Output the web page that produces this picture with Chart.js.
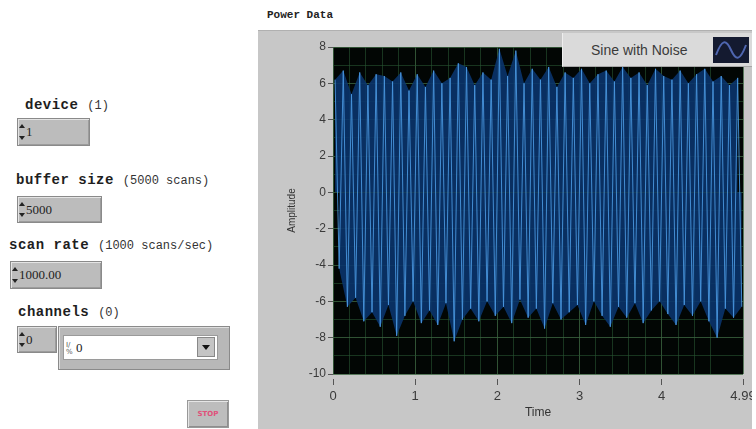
<!DOCTYPE html>
<html>
<head>
<meta charset="utf-8">
<script src="https://cdn.jsdelivr.net/npm/chart.js@4.4.1/dist/chart.umd.min.js"></script>
<style>
  body { margin: 0; width: 756px; height: 429px; background: #fff; position: relative; overflow: hidden; }
  .lbl { position: absolute; font: bold 14px "Liberation Mono", monospace; letter-spacing: 0.5px; color: #1e1e1e; white-space: nowrap; }
  .lbl span { font: 12px "Liberation Mono", monospace; letter-spacing: 0; color: #333; }
  .num { position: absolute; box-sizing: border-box; background: #bcbcbc; border: 1px solid #8a8a8a;
         box-shadow: inset 1px 1px 0 #e4e4e4, inset -1px -1px 0 #9c9c9c;
         font: 13px "Liberation Serif", serif; color: #222; padding-left: 8px; }
  .arr { position: absolute; left: 1px; width: 0; height: 0; border-left: 3px solid transparent; border-right: 3px solid transparent; }
  .up { top: 5px; border-bottom: 4px solid #222; }
  .dn { bottom: 5px; border-top: 4px solid #222; }
  #panel { position: absolute; left: 258px; top: 30px; width: 494px; height: 399px; background: #c7c7c7;
           border-top: 1px solid #b0b0b0; box-sizing: border-box; }
  #panel canvas { position: absolute; left: 0; top: 0; }
  #legend { position: absolute; left: 304px; top: 2px; width: 190px; height: 34px; background: #dadada;
            border-bottom: 1px solid #a8a8a8; border-left: 1px solid #eeeeee; box-sizing: border-box; }
  #legend .txt { position: absolute; left: 28px; top: 9px; font: 14px "Liberation Sans", sans-serif; color: #3a3a3a; }
  #legend svg { position: absolute; left: 150px; top: 4px; }
</style>
</head>
<body>

<div class="lbl" style="left:25px; top:97px">device <span>(1)</span></div>
<div class="num" style="left:17px; top:118px; width:73px; height:28px; line-height:26px">
  <div class="arr up"></div><div class="arr dn"></div>1</div>

<div class="lbl" style="left:16px; top:172px">buffer size <span>(5000 scans)</span></div>
<div class="num" style="left:17px; top:196px; width:85px; height:27px; line-height:25px">
  <div class="arr up"></div><div class="arr dn"></div>5000</div>

<div class="lbl" style="left:9px; top:237px">scan rate <span>(1000 scans/sec)</span></div>
<div class="num" style="left:10px; top:261px; width:92px; height:28px; line-height:26px">
  <div class="arr up"></div><div class="arr dn"></div>1000.00</div>

<div class="lbl" style="left:18px; top:304px">channels <span>(0)</span></div>
<div class="num" style="left:17px; top:326px; width:40px; height:27px; line-height:25px">
  <div class="arr up"></div><div class="arr dn"></div>0</div>
<div style="position:absolute; left:58px; top:326px; width:172px; height:44px; box-sizing:border-box;
            background:#b8b8b8; border:1px solid #8a8a8a; box-shadow: inset 1px 1px 0 #dedede"></div>
<div style="position:absolute; left:63px; top:335px; width:155px; height:25px; background:#fff; border:1px solid #9a9a9a; box-sizing:border-box;
            font:13px 'Liberation Serif', serif; color:#222; line-height:23px">
  <span style="font:7px 'DejaVu Sans'; color:#555; display:inline-block; width:10px; line-height:7px; vertical-align:middle; margin-left:2px">I/<br>%</span>0
</div>
<div style="position:absolute; left:197px; top:337px; width:18px; height:20px; background:#c4c4c4; border:1px solid #888; box-sizing:border-box">
  <div style="position:absolute; left:4px; top:7px; width:0; height:0; border-left:4px solid transparent; border-right:4px solid transparent; border-top:5px solid #111"></div>
</div>

<div style="position:absolute; left:187px; top:400px; width:42px; height:28px; box-sizing:border-box; background:#bdbdbd;
            border:1px solid #999; box-shadow: inset 1px 1px 0 #e6e6e6, inset -1px -1px 0 #8e8e8e;
            font:bold 7px 'DejaVu Sans', sans-serif; color:#e0507a; text-align:center; line-height:26px">STOP</div>

<div style="position:absolute; left:267px; top:9px; font:bold 11px 'Liberation Mono', monospace; color:#222">Power Data</div>

<div id="panel">
  <canvas id="powerChart" width="494" height="397"></canvas>
  <div id="legend">
    <div class="txt">Sine with Noise</div>
    <svg width="36" height="26" viewBox="0 0 36 26">
      <rect x="0" y="0" width="36" height="26" fill="#141a30"/>
      <path d="M3 18 C 9 2, 13 2, 18 13 S 27 24, 33 8" fill="none" stroke="#4f66b0" stroke-width="2"/>
    </svg>
  </div>
</div>

<script>
( function () {
	"use strict";

	// waveform: start time and spacing between turning points (s)
	var t0 = 0.025;
	var dt = 0.05;

	// amplitude at each crest / trough
	var peaks = [
		6.2, 6.7, 5.4, 6.6, 5.9, 6.5, 6.4, 6.1, 6.6, 5.6,
		6.5, 5.8, 6.7, 6.0, 6.3, 7.1, 6.9, 5.9, 6.6, 6.2,
		7.9, 6.4, 7.8, 6.0, 6.8, 6.2, 6.9, 5.8, 6.6, 6.3,
		6.8, 6.0, 6.5, 6.7, 6.1, 6.9, 6.3, 6.6, 5.9, 6.8,
		6.4, 6.2, 6.7, 6.0, 6.5, 6.8, 6.1, 6.4, 5.9, 6.3
	];
	var troughs = [
		-4.2, -6.3, -5.8, -7.1, -6.6, -7.4, -6.2, -7.9, -6.8, -6.0,
		-7.2, -6.5, -7.3, -6.1, -8.2, -7.0, -6.4, -7.1, -6.0, -6.8,
		-6.3, -7.2, -5.9, -6.9, -6.4, -7.5, -6.1, -7.0, -6.6, -6.2,
		-7.3, -6.0, -6.8, -7.4, -6.3, -6.9, -6.1, -7.2, -6.5, -6.0,
		-6.7, -7.3, -6.2, -6.8, -6.0, -7.1, -8.0, -6.4, -6.9, -6.3
	];

	var xTicks = [0, 1, 2, 3, 4, 4.99];
	var yTicks = [8, 6, 4, 2, 0, -2, -4, -6, -8, -10];

	var wave = [], upper = [], lower = [];
	for (var k = 0; k < peaks.length; k++) {
		var tp = t0 + dt * 2 * k, tt = tp + dt;
		wave.push({ x: tp, y: peaks[k] }, { x: tt, y: troughs[k] });
		upper.push({ x: tp, y: peaks[k] });
		lower.push({ x: tt, y: troughs[k] });
	}

	var plotBg = {
		id: 'plotBg',
		beforeDraw: function (chart) {
			var a = chart.chartArea, c = chart.ctx;
			c.save();
			c.fillStyle = '#020604';
			c.fillRect(a.left, a.top, a.right - a.left, a.bottom - a.top);
			c.restore();
		}
	};

	var ctx = document.getElementById("powerChart");
	var myChart = new Chart( ctx, {
		type: 'line',
		data: {
			datasets: [ {
				label: 'Sine with Noise',
				data: wave,
				borderColor: 'rgba(72, 150, 222, 0.9)',
				borderWidth: 1,
				pointRadius: 0,
				tension: 0,
				order: 0
			}, {
				data: upper,
				borderWidth: 0,
				pointRadius: 0,
				fill: 'origin',
				backgroundColor: 'rgba(10, 52, 108, 0.9)',
				order: 1
			}, {
				data: lower,
				borderWidth: 0,
				pointRadius: 0,
				fill: 'origin',
				backgroundColor: 'rgba(10, 52, 108, 0.9)',
				order: 1
			} ]
		},
		options: {
			responsive: false,
			animation: false,
			layout: { padding: { top: 16, right: 9, left: 0, bottom: 0 } },
			plugins: { legend: { display: false }, tooltip: { enabled: false } },
			scales: {
				x: {
					type: 'linear', min: 0, max: 4.99,
					afterBuildTicks: function (s) { s.ticks = xTicks.map(function (v) { return { value: v }; }); },
					afterFit: function (s) { s.height = 54; s.paddingLeft = 0; s.paddingRight = 0; },
					ticks: {
						color: '#3a3a3a', font: { family: 'Liberation Sans', size: 13 }, padding: 4, maxRotation: 0, autoSkip: false,
						callback: function (v) { return String(v); }
					},
					grid: { color: 'rgba(120, 150, 110, 0.5)', tickLength: 11, tickColor: '#555', tickBorderDash: [0, 5, 6, 100] },
					border: { display: false },
					title: { display: true, text: 'Time', color: '#333', font: { family: 'Liberation Sans', size: 12 }, padding: { top: 0, bottom: 8 } }
				},
				xm: {
					type: 'linear', position: 'bottom', min: 0, max: 4.99, z: -1,
					ticks: { display: false, stepSize: 0.2 },
					afterFit: function (s) { s.height = 0; s.paddingLeft = 0; s.paddingRight = 0; },
					grid: { color: 'rgba(40, 85, 50, 0.6)', drawTicks: false },
					border: { display: false }
				},
				y: {
					min: -10, max: 8,
					afterBuildTicks: function (s) { s.ticks = yTicks.map(function (v) { return { value: v }; }); },
					afterFit: function (s) { s.width = 75; s.paddingTop = 0; s.paddingBottom = 0; },
					ticks: { color: '#3a3a3a', font: { family: 'Liberation Sans', size: 12 }, padding: 2 },
					grid: { color: 'rgba(120, 150, 110, 0.5)', tickLength: 5, tickColor: '#555' },
					border: { display: false },
					title: { display: true, text: 'Amplitude', color: '#333', font: { family: 'Liberation Sans', size: 10 }, padding: { top: 28, bottom: 0 } }
				},
				ym: {
					position: 'left', min: -10, max: 8, z: -1,
					ticks: { display: false, stepSize: 1 },
					afterFit: function (s) { s.width = 0; s.paddingTop = 0; s.paddingBottom = 0; },
					grid: { color: 'rgba(40, 85, 50, 0.6)', drawTicks: false },
					border: { display: false }
				}
			}
		},
		plugins: [plotBg]
	} );

} )();
</script>
</body>
</html>
